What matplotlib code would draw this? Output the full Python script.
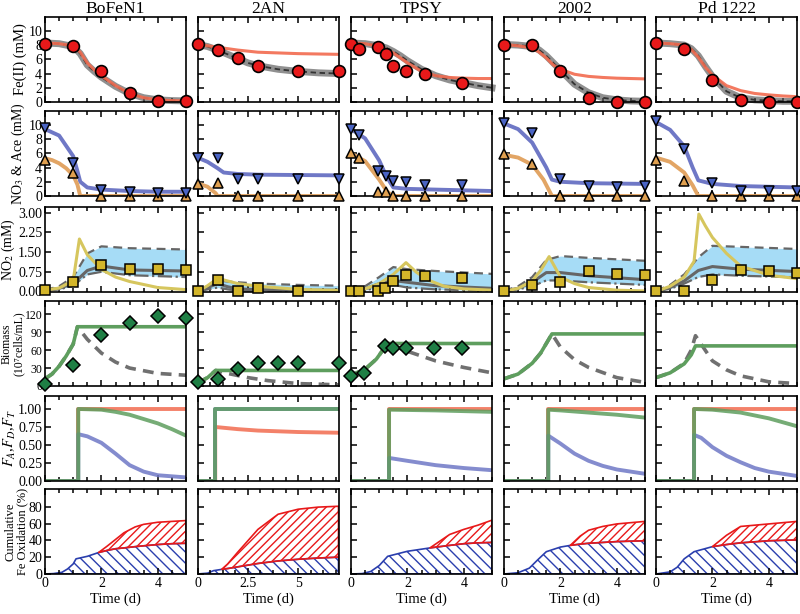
import matplotlib
matplotlib.use('Agg')
import matplotlib.pyplot as plt
from matplotlib.ticker import MultipleLocator, AutoMinorLocator, FuncFormatter

plt.rcParams['font.family'] = ['Liberation Serif', 'DejaVu Serif']
plt.rcParams['mathtext.fontset'] = 'stix'
plt.rcParams['font.size'] = 10.5
plt.rcParams['xtick.labelsize'] = 10
plt.rcParams['ytick.labelsize'] = 10
plt.rcParams['hatch.linewidth'] = 1.0

strains = ['BoFeN1', '2AN', 'TPSY', '2002', 'Pd 1222']
t_end = [5, 7, 5, 5, 5]
x_major = [2, 2.5, 2, 2, 2]

# observation times (Fe, NO3/Ace)
obs_t = [[0, 1, 2, 3, 4, 5], [0, 1, 2, 3, 5, 7], [0, 0.3, 0.97, 1.24, 1.48, 1.95, 2.64, 3.95],
         [0, 1, 2, 3, 4, 5], [0, 1, 2, 3, 4, 5]]

# ---- Fe(II) ----
fe_obs = [[8.2, 7.9, 4.3, 1.3, 0.2, 0.15], [8.1, 7.3, 6.2, 5.0, 4.3, 4.3],
          [8.1, 7.5, 7.8, 6.7, 5.0, 4.4, 3.9, 2.7], [8.0, 8.0, 4.3, 0.6, 0.05, 0.05],
          [8.3, 7.5, 3.1, 0.3, 0.05, 0.05]]
fe_mt = [[0, 0.5, 1, 1.25, 1.5, 1.75, 2, 2.5, 3, 3.5, 4, 4.5, 5],
         [0, 0.5, 1, 1.5, 2, 2.5, 3, 4, 5, 6, 7],
         [0, 0.5, 1, 1.25, 1.5, 1.75, 2, 2.5, 3, 3.5, 4, 4.5, 5],
         [0, 0.5, 1, 1.25, 1.5, 1.75, 2, 2.5, 3, 3.5, 4, 4.5, 5],
         [0, 0.5, 1, 1.25, 1.5, 1.75, 2, 2.5, 3, 3.5, 4, 4.5, 5]]
fe_gray = [[8.3, 8.2, 7.8, 6.8, 5.2, 4.3, 3.5, 2.2, 1.2, 0.6, 0.3, 0.2, 0.15],
           [8.1, 7.8, 7.3, 6.7, 6.1, 5.5, 5.1, 4.6, 4.3, 4.1, 4.0],
           [8.3, 8.2, 7.9, 7.6, 7.1, 6.5, 5.8, 4.6, 3.7, 3.1, 2.7, 2.3, 2.0],
           [8.1, 8.0, 7.8, 7.3, 6.5, 5.5, 4.5, 2.5, 1.3, 0.6, 0.3, 0.15, 0.1],
           [8.3, 8.2, 8.0, 7.5, 6.5, 5.0, 3.6, 1.5, 0.6, 0.3, 0.2, 0.1, 0.1]]
fe_red = [[8.3, 8.2, 7.9, 7.0, 5.5, 4.5, 3.7, 2.3, 1.2, 0.6, 0.3, 0.2, 0.15],
          [8.1, 7.9, 7.7, 7.5, 7.3, 7.15, 7.0, 6.9, 6.8, 6.75, 6.7],
          [8.3, 8.2, 7.8, 7.4, 6.9, 6.2, 5.5, 4.3, 3.7, 3.45, 3.35, 3.3, 3.3],
          [8.1, 7.9, 7.6, 7.0, 6.2, 5.2, 4.6, 3.9, 3.6, 3.45, 3.35, 3.3, 3.25],
          [8.3, 8.2, 8.0, 7.4, 6.3, 4.9, 3.8, 2.3, 1.6, 1.2, 1.0, 0.85, 0.75]]

# ---- NO3 & acetate ----
no3_obs = [[9.6, 4.7, 0.9, 0.5, 0.4, 0.4], [5.4, 5.3, 2.4, 2.4, 2.4, 2.4],
           [9.4, 8.6, 3.5, 2.8, 2.1, 2.0, 1.6, 1.6], [10.3, 8.9, 2.4, 1.4, 1.3, 1.4],
           [10.5, 6.6, 1.8, 0.7, 0.7, 0.7]]
ace_obs = [[5.1, 3.2, 0, 0, 0, 0], [1.7, 1.8, 0, 0, 0, 0],
           [6.0, 5.3, 0.6, 0.6, 0, 0, 0, 0], [5.9, 4.5, 0, 0, 0, 0],
           [5.1, 2.1, 0, 0, 0, 0]]
no3_mt = [[0, 0.5, 1, 1.15, 1.25, 1.5, 2, 3, 4, 5], [0, 0.5, 1, 1.3, 2, 3, 7],
          [0, 0.5, 1, 1.25, 1.5, 2, 3, 5], [0, 0.5, 1, 1.5, 1.7, 2, 3, 5],
          [0, 0.5, 1, 1.3, 1.5, 2, 3, 5]]
no3_m = [[9.4, 8.5, 5.6, 3.5, 2.0, 1.2, 0.9, 0.7, 0.6, 0.6], [5.4, 4.8, 3.9, 3.3, 3.1, 3.0, 2.9],
         [9.4, 8.1, 5.0, 2.8, 1.2, 1.0, 0.9, 0.7], [10.2, 9.4, 7.5, 4.0, 2.3, 2.0, 1.8, 1.7],
         [10.4, 9.3, 7.0, 4.0, 2.2, 1.7, 1.4, 1.2]]
ace_mt = [[0, 0.25, 0.5, 0.75, 1, 1.15, 1.25, 5], [0, 0.5, 0.9, 1.0, 7],
          [0, 0.5, 1, 1.25, 1.45, 5], [0, 0.5, 1, 1.4, 1.7, 5], [0, 0.5, 1, 1.3, 1.5, 5]]
ace_m = [[5.3, 5.05, 4.6, 3.9, 2.9, 1.6, 0, 0], [1.8, 1.3, 0.4, 0, 0],
         [6.0, 4.9, 2.3, 0.8, 0, 0], [5.8, 5.4, 4.4, 2.3, 0, 0], [5.4, 4.8, 3.3, 1.5, 0, 0]]

# ---- NO2 ----
no2_t = [[0, 1, 2, 3, 4, 5], [0, 1, 2, 3, 5], [0, 0.3, 0.97, 1.2, 1.48, 1.95, 2.64, 3.95],
         [0, 1, 2, 3, 4, 5], [0, 1, 2, 3, 4, 5]]
no2_obs = [[0.07, 0.35, 1.0, 0.87, 0.87, 0.82], [0.02, 0.42, 0.03, 0.15, 0.02],
           [0.03, 0.03, 0.03, 0.13, 0.39, 0.62, 0.58, 0.51], [0.0, 0.26, 0.36, 0.77, 0.67, 0.62],
           [0.0, 0.0, 0.45, 0.8, 0.77, 0.7]]
no2_yt = [[0, 0.5, 1, 1.22, 1.5, 2, 2.5, 3, 4, 5], [0, 0.5, 1, 1.5, 2, 3, 5, 7],
          [0, 0.5, 1, 1.5, 1.95, 2.3, 2.7, 3.3, 4, 5], [0, 0.5, 1, 1.3, 1.6, 2, 2.5, 3, 4, 5],
          [0, 0.5, 1, 1.35, 1.52, 1.75, 2, 2.5, 3, 4, 5]]
no2_y = [[0.05, 0.13, 0.42, 2.0, 1.4, 0.84, 0.55, 0.38, 0.15, 0.07],
         [0, 0.22, 0.5, 0.4, 0.3, 0.2, 0.08, 0.04],
         [0, 0.1, 0.3, 0.65, 1.1, 0.75, 0.45, 0.2, 0.1, 0.05],
         [0, 0.12, 0.4, 0.8, 1.33, 0.55, 0.3, 0.15, 0.05, 0.02],
         [0, 0.2, 0.55, 1.15, 2.95, 2.5, 2.06, 1.45, 0.97, 0.62, 0.49]]
band_t = [[0, 0.5, 1, 1.5, 2, 3, 5], [0, 0.5, 1, 1.5, 2, 3, 5, 7], [0, 0.5, 1, 1.5, 2, 3, 5],
          [0, 0.5, 1, 1.5, 2, 3, 5], [0, 0.5, 1, 1.5, 2, 3, 5]]
band_hi = [[0.05, 0.2, 0.55, 1.45, 1.72, 1.65, 1.6], [0, 0.2, 0.42, 0.38, 0.35, 0.3, 0.25, 0.22],
           [0.02, 0.2, 0.55, 0.93, 0.85, 0.78, 0.67], [0.02, 0.2, 0.55, 1.2, 1.35, 1.28, 1.17],
           [0.02, 0.25, 0.65, 1.3, 1.74, 1.7, 1.62]]
band_mid = [[0.05, 0.12, 0.3, 0.8, 0.97, 0.82, 0.78], [0, 0.15, 0.3, 0.18, 0.1, 0.07, 0.05, 0.05],
            [0.02, 0.1, 0.3, 0.42, 0.35, 0.22, 0.12], [0.02, 0.12, 0.35, 0.72, 0.72, 0.6, 0.45],
            [0.02, 0.15, 0.4, 0.8, 0.95, 0.85, 0.76]]
band_lo = [[0.03, 0.08, 0.22, 0.65, 0.75, 0.62, 0.55], [0, 0.08, 0.15, 0.08, 0.03, 0.02, 0.01, 0.01],
           [0.01, 0.05, 0.15, 0.25, 0.15, 0.08, 0.03], [0.01, 0.08, 0.2, 0.42, 0.42, 0.35, 0.25],
           [0.01, 0.1, 0.3, 0.55, 0.65, 0.6, 0.54]]

# ---- Biomass ----
bio_t = [[0, 1, 2, 3, 4, 5], [0, 1, 2, 3, 4, 5, 7], [0, 0.47, 1.2, 1.48, 1.95, 2.95, 3.95], [], []]
bio_obs = [[4, 35, 86, 106, 117, 113], [6, 11, 28, 39, 39, 38, 39], [17, 22, 67, 64, 64, 64, 64], [], []]
bio_mt = [[0, 0.25, 0.5, 0.75, 1, 1.15, 1.5, 2, 2.5, 3, 4, 5],
          [0, 0.5, 0.9, 1.5, 2.5, 3.5, 5, 7],
          [0, 0.5, 0.9, 1.3, 2, 3, 4, 5],
          [0, 0.5, 1, 1.3, 1.7, 2, 2.5, 3, 4, 5],
          [0, 0.5, 1, 1.25, 1.4, 2, 2.5, 3, 4, 5]]
bio_green = [[12, 20, 33, 50, 70, 99, 99, 99, 99, 99, 99, 99],
             [5, 14, 26, 26, 26, 26, 26, 26],
             [18, 28, 45, 71, 71, 71, 71, 71],
             [12, 20, 38, 55, 87, 87, 87, 87, 87, 87],
             [14, 22, 37, 52, 67, 67, 67, 67, 67, 67]]
bio_gray = [[12, 20, 33, 50, 70, 99, 78, 55, 40, 30, 21, 18],
            [5, 14, 26, 21, 14, 9, 4, 2],
            [18, 28, 45, 71, 58, 42, 31, 22],
            [12, 20, 38, 55, 87, 65, 44, 31, 14, 6],
            [14, 22, 38, 60, 84, 42, 27, 17, 7, 4]]

# ---- F_A, F_D, F_T (zero before the switch time) ----
f_step = [1.18, 0.88, 1.35, 1.57, 1.35]
ft_t = [[1.18, 5], [0.88, 2, 3, 5, 7], [1.35, 5], [1.57, 5], [1.35, 5]]
ft_v = [[1, 1], [0.75, 0.72, 0.7, 0.68, 0.67], [1, 1], [1, 1], [1, 1]]
fa_t = [[1.18, 2, 2.5, 3, 3.5, 4, 4.5, 5], [0.88, 7], [1.35, 3, 5], [1.57, 2, 3, 4, 5], [1.35, 2, 3, 4, 5]]
fa_v = [[1.0, 0.99, 0.96, 0.92, 0.86, 0.8, 0.72, 0.63], [1, 1], [0.99, 0.98, 0.96],
        [0.99, 0.98, 0.95, 0.92, 0.88], [1.0, 0.99, 0.95, 0.87, 0.76]]
fd_t = [[1.18, 1.5, 2, 2.5, 3, 3.5, 4, 5], [0.88, 7], [1.35, 2, 3, 4, 5],
        [1.57, 2, 2.5, 3, 3.5, 4, 5], [1.35, 1.6, 2, 2.5, 3, 3.5, 4, 5]]
fd_v = [[0.65, 0.62, 0.53, 0.38, 0.22, 0.13, 0.08, 0.05], [1, 1], [0.32, 0.28, 0.22, 0.18, 0.15],
        [0.63, 0.52, 0.38, 0.28, 0.21, 0.16, 0.1], [0.64, 0.6, 0.47, 0.35, 0.26, 0.18, 0.13, 0.07]]

# ---- cumulative Fe oxidation ----
ox_t = [[0, 0.3, 0.6, 0.8, 1.0, 1.1, 1.5, 1.9, 2.2, 2.5, 2.8, 3.2, 3.5, 4, 4.5, 5],
        [0, 0.5, 0.8, 1.2, 1.5, 2, 3, 4, 5, 6, 7],
        [0, 0.4, 0.7, 1.0, 1.3, 2, 2.8, 3.5, 4, 4.5, 5],
        [0, 0.5, 0.9, 1.2, 1.5, 2, 2.35, 2.7, 3, 3.5, 4, 5],
        [0, 0.5, 0.75, 1.0, 1.35, 2, 2.5, 3, 4, 5]]
ox_blue = [[0, 0.5, 2, 6, 12, 18, 21, 25.5, 28, 30, 31, 32.5, 33.5, 35, 36, 36.5],
           [0, 1, 4, 5.5, 6.5, 8.5, 12.5, 15.5, 17.5, 19, 20],
           [0, 0.5, 3, 10, 21, 27, 31, 34, 36, 37, 37.5],
           [0, 1.5, 7, 17, 26.5, 32, 34, 35.5, 36.5, 37.5, 38.5, 39.5],
           [0, 2.5, 8, 18, 26.5, 32.5, 35, 37, 39.5, 40.5]]
ox_total = [[0, 0.5, 2, 6, 12, 18, 21, 25.5, 33, 41, 49, 56, 59, 61.5, 62.5, 63.5],
            [0, 1, 4, 5.5, 12, 26, 53, 71, 77, 79.5, 80.5],
            [0, 0.5, 3, 10, 21, 27, 31, 47, 53, 58, 64],
            [0, 1.5, 7, 17, 26.5, 32, 34, 45, 52, 56.5, 59.5, 62.5],
            [0, 2.5, 8, 18, 26.5, 32.5, 46, 56.5, 59.5, 62.5]]

RED = '#f26b4f'
GREEN = '#5e9e5e'
BLUE = '#6f78c6'
ORANGE = '#e2a565'
YELLOW = '#d6c65e'

fig = plt.figure(figsize=(8, 6.14), dpi=100)
col_left = [45, 197.5, 351, 504, 656]
row_top = [17, 111, 207, 301, 396, 489]
W, H = 141, 85

ylims = [(0, 11.95), (0, 11.95), (-0.02, 3.22), (0, 142), (0, 1.18), (0, 101)]
ymajor = [2, 2, 0.75, 30, 0.25, 20]
ylabels = ['Fe(II) (mM)', 'NO$_3$ & Ace (mM)', 'NO$_2$ (mM)',
           'Biomass\n(10\u2077cells/mL)', '$F_A$,$F_D$,$F_T$', 'Cumulative\nFe Oxidation (%)']
ylabel_size = [10.5, 10, 10, 8.5, 10.5, 9]
ylabel_x = [-0.13, -0.13, -0.2, -0.145, -0.19, -0.12]
ytick_size = [10, 10, 10, 8.5, 10, 10]

for c in range(5):
    axs = []
    for r in range(6):
        ax = fig.add_axes([col_left[c] / 800, 1 - (row_top[r] + H) / 614, W / 800, H / 614])
        ax.set_xlim(0, t_end[c])
        ax.set_ylim(*ylims[r])
        ax.xaxis.set_major_locator(MultipleLocator(x_major[c]))
        ax.xaxis.set_minor_locator(AutoMinorLocator(4))
        ax.xaxis.set_major_formatter(FuncFormatter(lambda v, p: f'{v:g}'))
        ax.yaxis.set_major_locator(MultipleLocator(ymajor[r]))
        if r == 5:
            ax.set_yticks([0, 20, 40, 60, 80])
        ax.tick_params(which='both', direction='in', top=True, right=False, width=1.1, pad=2)
        ax.tick_params(which='major', length=4)
        ax.tick_params(which='minor', length=3)
        ax.tick_params(axis='y', labelsize=ytick_size[r])
        for s in ax.spines.values():
            s.set_linewidth(1.2)
        if r < 5:
            ax.tick_params(labelbottom=False)
        else:
            ax.set_xlabel('Time (d)', labelpad=2)
        if c > 0:
            ax.tick_params(labelleft=False)
        else:
            ax.set_ylabel(ylabels[r], fontsize=ylabel_size[r], linespacing=0.95)
            ax.yaxis.set_label_coords(ylabel_x[r], 0.5)
        axs.append(ax)

    axs[0].set_title(strains[c], pad=3)

    # Fe(II)
    ax = axs[0]
    ax.plot(fe_mt[c], fe_gray[c], color='#555555', lw=5, alpha=0.65, clip_on=False)
    ax.plot(fe_mt[c], fe_gray[c], color='#333333', lw=1.3, ls='--', dashes=(3, 2))
    ax.plot(fe_mt[c], fe_red[c], color=RED, lw=2.2, alpha=0.9)
    ax.plot(obs_t[c], fe_obs[c], 'o', ms=8.5, mfc='#e8191a', mec='black', mew=1.2, clip_on=False, zorder=5)

    # NO3 & acetate
    ax = axs[1]
    ax.plot(no3_mt[c], no3_m[c], color=BLUE, lw=2.8)
    ax.plot(ace_mt[c], ace_m[c], color=ORANGE, lw=2.8)
    ax.plot(obs_t[c], ace_obs[c], '^', ms=7.5, mfc='#e0a050', mec='black', mew=1.1, clip_on=False, zorder=5)
    ax.plot(obs_t[c], no3_obs[c], 'v', ms=7.5, mfc='#4a64c4', mec='black', mew=1.1, clip_on=False, zorder=5)

    # NO2
    ax = axs[2]
    ax.fill_between(band_t[c], band_lo[c], band_hi[c], color='#a6dcf6', lw=0)
    ax.plot(band_t[c], band_hi[c], color='#666666', lw=1.6, ls='--', dashes=(4, 2.5))
    ax.plot(band_t[c], band_lo[c], color='#666666', lw=1.6, ls='-.')
    ax.plot(band_t[c], band_mid[c], color='#666666', lw=2.2)
    ax.plot(no2_yt[c], no2_y[c], color=YELLOW, lw=2.2)
    ax.plot(no2_t[c], no2_obs[c], 's', ms=7, mfc='#d4b62a', mec='black', mew=1.1, clip_on=False, zorder=5)

    # Biomass
    ax = axs[3]
    ax.plot(bio_mt[c], bio_gray[c], color='#707070', lw=2.6, ls='--', dashes=(3, 2))
    ax.plot(bio_mt[c], bio_green[c], color=GREEN, lw=2.6)
    if bio_t[c]:
        ax.plot(bio_t[c], bio_obs[c], 'D', ms=7.5, mfc='#1f7f45', mec='black', mew=1.1, clip_on=False, zorder=5)

    # F_A, F_D, F_T
    ax = axs[4]
    for tt, vv, col in [(ft_t[c], ft_v[c], RED), (fd_t[c], fd_v[c], BLUE), (fa_t[c], fa_v[c], GREEN)]:
        ax.plot([0, f_step[c]] + tt, [0, 0] + vv, color=col, lw=2.8, alpha=0.85)

    # cumulative Fe oxidation
    ax = axs[5]
    ax.fill_between(ox_t[c], 0, ox_blue[c], facecolor='none', edgecolor='#2b3fae', hatch='\\\\\\', lw=1.2)
    k = next(i for i in range(len(ox_t[c])) if ox_total[c][i] > ox_blue[c][i]) - 1
    ax.fill_between(ox_t[c][k:], ox_blue[c][k:], ox_total[c][k:], facecolor='none',
                    edgecolor='#e8191a', hatch='////', lw=1.2)

fig.savefig('out.png', dpi=100)
